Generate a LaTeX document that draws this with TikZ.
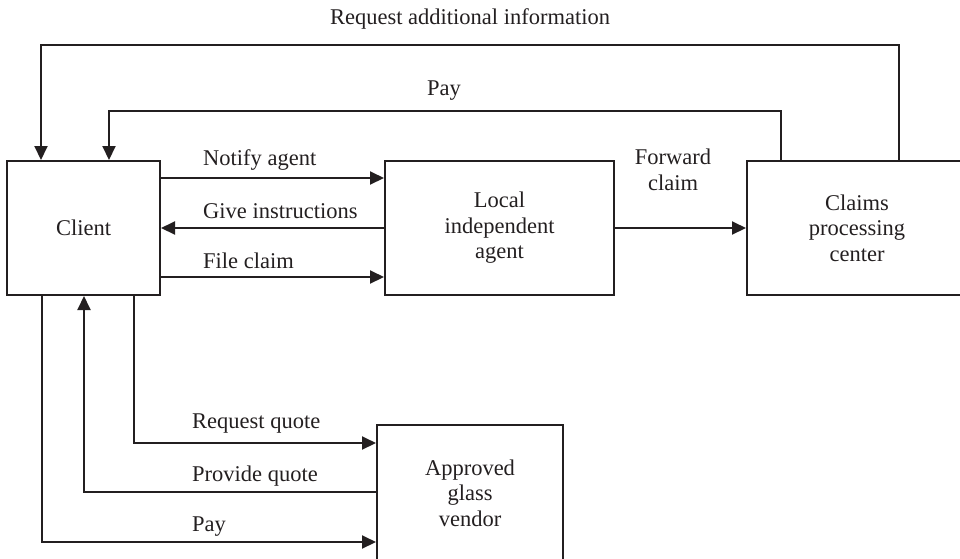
\documentclass[tikz,border=0pt]{standalone}
\usepackage{fontspec}
\setmainfont{Liberation Serif}
\usetikzlibrary{arrows.meta}
\definecolor{ink}{HTML}{231F20}
\begin{document}
\begin{tikzpicture}[x=1pt, y=-1pt,
  every node/.style={font=\fontsize{22.5}{25.5}\selectfont, text=ink},
  box/.style={draw=ink, line width=2pt, inner sep=0pt, align=center},
  arr/.style={draw=ink, line width=2pt, -{Triangle[length=14pt,width=13pt]}},
  lab/.style={inner sep=0pt, anchor=base west},
  labc/.style={inner sep=0pt, anchor=base, align=center}]
  \useasboundingbox (0,0) rectangle (960,558);

  % Boxes
  \node[box, minimum width=153pt, minimum height=134pt] (client) at (83.5,228) {Client};
  \node[box, minimum width=229pt, minimum height=134pt] (agent) at (499.5,228) {Local\\independent\\agent};
  \node[box, minimum width=220pt, minimum height=134pt] (claims) at (857,228) {Claims\\processing\\center};
  \node[box, minimum width=186pt, minimum height=136pt] (vendor) at (470,493) {Approved\\glass\\vendor};

  % Client <-> agent
  \draw[arr] ([yshift=50pt]client.east) -- ([yshift=50pt]agent.west);
  \draw[arr] (agent.west) -- (client.east);
  \draw[arr] ([yshift=-49pt]client.east) -- ([yshift=-49pt]agent.west);
  \node[lab] (lnotify) at (203,165) {Notify agent};
  \node[lab] (lgive) at (203,218) {Give instructions};
  \node[lab] (lfile) at (203,268) {File claim};

  % Agent -> claims
  \draw[arr] (agent.east) -- (claims.west);
  \node[labc] (lfwd) at (673,190) {Forward\\claim};

  % Claims -> client, over the top
  \draw[arr] ([xshift=-76pt]claims.north) -- ++(0,-49) -| ([xshift=25.5pt]client.north);
  \draw[arr] ([xshift=42pt]claims.north) -- ++(0,-115) -| ([xshift=-42.5pt]client.north);
  \node[labc] (lpaytop) at (444,95) {Pay};
  \node[labc] (lreq) at (470,24) {Request additional information};

  % Client <-> vendor
  \draw[arr] ([xshift=50.5pt]client.south) |- ([yshift=50pt]vendor.west);
  \draw[arr] ([yshift=1pt]vendor.west) -| ([xshift=0.5pt]client.south);
  \draw[arr] ([xshift=-41.5pt]client.south) |- ([yshift=-49pt]vendor.west);
  \node[lab] (lquote) at (192,428) {Request quote};
  \node[lab] (lprov) at (192,481) {Provide quote};
  \node[lab] (lpay) at (192,531) {Pay};
\end{tikzpicture}
\end{document}
